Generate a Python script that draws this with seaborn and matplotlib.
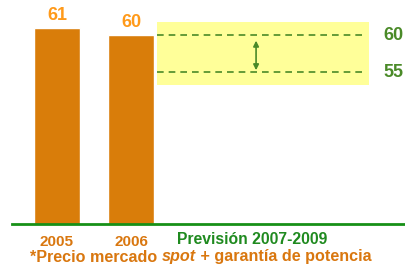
import matplotlib
matplotlib.use("Agg")
import matplotlib.pyplot as plt
import seaborn as sns
import pandas as pd

# data
years = ["2005", "2006"]
prices = [61, 60]
forecast_label = "Previsión 2007-2009"
forecast_high = 60
forecast_low = 55
footnote_parts = ["*Precio mercado ", "spot", " + garantía de potencia"]

sns.set_style("white")
plt.rcParams["font.family"] = ["Liberation Sans", "DejaVu Sans"]

bar_color = "#D97D0A"
label_orange = "#FF9A1A"
text_orange = "#D9770F"
green = "#4A8A28"
green_dark = "#1F8A1F"

fig = plt.figure(figsize=(4.06, 2.71), dpi=100)
ax = fig.add_axes([12 / 406, 47 / 271, 1 - 12 / 406, 224 / 271])

df = pd.DataFrame({"year": years, "price": prices})
sns.barplot(data=df, x="year", y="price", color=bar_color, width=0.62,
            saturation=1, ax=ax)

ax.set_xlim(-0.608, 4.716)
ax.set_ylim(34.5, 64.8)

for s in ["top", "right", "left"]:
    ax.spines[s].set_visible(False)
ax.spines["bottom"].set_color("#179017")
ax.spines["bottom"].set_linewidth(2)
ax.set_yticks([])
ax.set_xlabel("")
ax.set_ylabel("")
ax.tick_params(axis="x", length=0, pad=8)
for t in ax.get_xticklabels():
    t.set_color(text_orange)
    t.set_fontweight("bold")
    t.set_fontsize(11)

for i, v in enumerate(prices):
    ax.text(i, v + 0.6, str(v), ha="center", va="bottom", color=label_orange,
            fontsize=13, fontweight="bold")

# forecast band
ax.fill_between([1.35, 4.22], 53.3, 61.8, color="#FFFF99", lw=0, zorder=0)
ax.hlines([forecast_high, forecast_low], 1.35, 4.12, colors=green,
          linestyles=(0, (4, 3)), lw=1.2)
ax.annotate("", xy=(2.69, forecast_low + 0.3), xytext=(2.69, forecast_high - 0.7),
            arrowprops=dict(arrowstyle="<|-|>", color=green, lw=1.2,
                            mutation_scale=8, shrinkA=0, shrinkB=0))
for v in [forecast_high, forecast_low]:
    ax.text(4.55, v, str(v), ha="center", va="center", color=green,
            fontsize=13, fontweight="bold")

ax.text(2.64, 34.5 - 2.15, forecast_label, ha="center", va="center",
        color=green_dark, fontsize=11.3, fontweight="bold", clip_on=False)

# footnote, built piece by piece so "spot" can be italic
fig.canvas.draw()
r = fig.canvas.get_renderer()
x0 = 30
for part in footnote_parts:
    txt = fig.text(x0 / 406, 1 - 257 / 271, part, ha="left", va="center",
                   color=text_orange, fontsize=11.6, fontweight="bold",
                   style="italic" if part == "spot" else "normal")
    x0 += txt.get_window_extent(r).width

fig.savefig("out.png", dpi=100)
